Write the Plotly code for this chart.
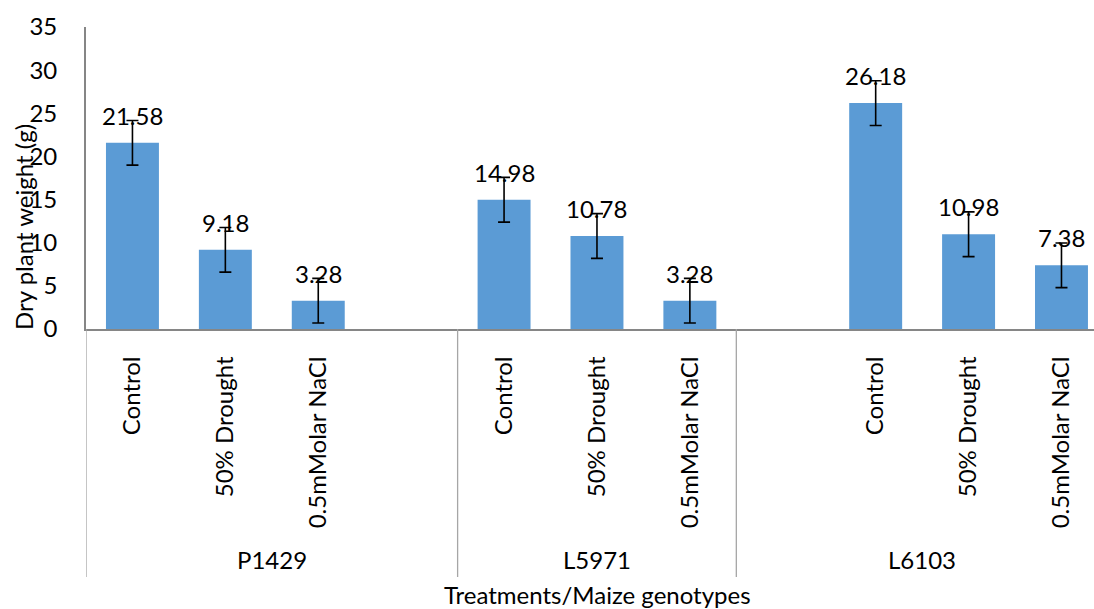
import plotly.graph_objects as go

# ---------------- data ----------------
groups = ["P1429", "L5971", "L6103"]
# category slots as laid out in the source sheet (blank rows kept as empty slots)
slot_group = ["P1429", "P1429", "P1429", "P1429",
              "L5971", "L5971", "L5971",
              "L6103", "L6103", "L6103", "L6103"]
slot_treatment = ["Control", "50% Drought", "0.5mMolar NaCl", "",
                  "Control", "50% Drought", "0.5mMolar NaCl",
                  "", "Control", "50% Drought", "0.5mMolar NaCl"]
dry_weight = [21.58, 9.18, 3.28, None,
              14.98, 10.78, 3.28,
              None, 26.18, 10.98, 7.38]
error = [2.59, 2.59, 2.59, None,
         2.59, 2.59, 2.59,
         None, 2.59, 2.59, 2.59]
y_ticks = [0, 5, 10, 15, 20, 25, 30, 35]

# ---------------- layout geometry ----------------
W, H = 1094, 609
ML, MR, MT, MB = 86, 0, 27, 280
PLOT_H = H - MT - MB


def py(pixel_y):
    """pixel row -> paper y"""
    return (H - MB - pixel_y) / PLOT_H


def pxx(pixel_x):
    return (pixel_x - ML) / (W - ML - MR)


FONT = "Lato"
FS = 24
BLUE = "#5B9BD5"
AXIS = "#868686"

slots = list(range(len(slot_group)))
real = [i for i in slots if slot_treatment[i] != ""]

fig = go.Figure()
fig.add_trace(go.Bar(
    x=slots,
    y=dry_weight,
    width=0.57,
    marker=dict(color=BLUE, line=dict(width=0)),
    error_y=dict(type="data", array=error, visible=True,
                 color="#000000", thickness=1.6, width=6),
    hoverinfo="skip",
    showlegend=False,
))

annotations = []
# data labels
for i in real:
    annotations.append(dict(
        x=i, y=dry_weight[i], xref="x", yref="y",
        text=f"{dry_weight[i]:.2f}", showarrow=False,
        yanchor="bottom", yshift=11,
        font=dict(family=FONT, size=FS, color="#000000"),
    ))

# group labels and dividers
shapes = []
bounds = []
for g in groups:
    idx = [i for i in slots if slot_group[i] == g]
    lo, hi = min(idx) - 0.5, max(idx) + 0.5
    bounds.append((lo, hi))
    annotations.append(dict(
        x=(lo + hi) / 2, y=py(559), xref="x", yref="paper",
        text=g, showarrow=False, yanchor="middle",
        font=dict(family=FONT, size=FS, color="#000000"),
    ))
edges = sorted(set([b[0] for b in bounds] + [b[1] for b in bounds]))
for e in edges:
    shapes.append(dict(
        type="line", xref="x", yref="paper",
        x0=e, x1=e, y0=0, y1=py(577),
        line=dict(color="#A6A6A6", width=1.3),
    ))

# axis titles
annotations.append(dict(
    x=pxx(597), y=py(594), xref="paper", yref="paper",
    text="Treatments/Maize genotypes", showarrow=False,
    yanchor="middle", xanchor="center",
    font=dict(family=FONT, size=FS, color="#000000"),
))
annotations.append(dict(
    x=pxx(23), y=py(227), xref="paper", yref="paper",
    text="Dry plant weight (g)", showarrow=False, textangle=-90,
    yanchor="middle", xanchor="center",
    font=dict(family=FONT, size=FS, color="#000000"),
))

fig.update_layout(
    width=W, height=H,
    margin=dict(l=ML, r=MR, t=MT, b=MB, pad=0),
    paper_bgcolor="white", plot_bgcolor="white",
    font=dict(family=FONT, size=FS, color="#000000"),
    annotations=annotations,
    shapes=shapes,
    xaxis=dict(
        range=[-0.5, 10.35],
        tickmode="array",
        tickvals=real,
        ticktext=[slot_treatment[i] for i in real],
        tickangle=-90,
        ticks="",
        ticklabelstandoff=16,
        showgrid=False, zeroline=False,
        showline=True, linecolor=AXIS, linewidth=1.8,
        tickfont=dict(family=FONT, size=FS, color="#000000"),
    ),
    yaxis=dict(
        range=[0, 35],
        tickmode="array",
        tickvals=y_ticks,
        ticks="",
        ticklabelstandoff=22,
        showgrid=False, zeroline=False,
        showline=True, linecolor=AXIS, linewidth=1.8,
        tickfont=dict(family=FONT, size=FS, color="#000000"),
    ),
)

fig.write_html(
    "out.html",
    config={"displayModeBar": False},
    post_script="document.body.style.margin='0';document.body.style.overflow='hidden';",
)
